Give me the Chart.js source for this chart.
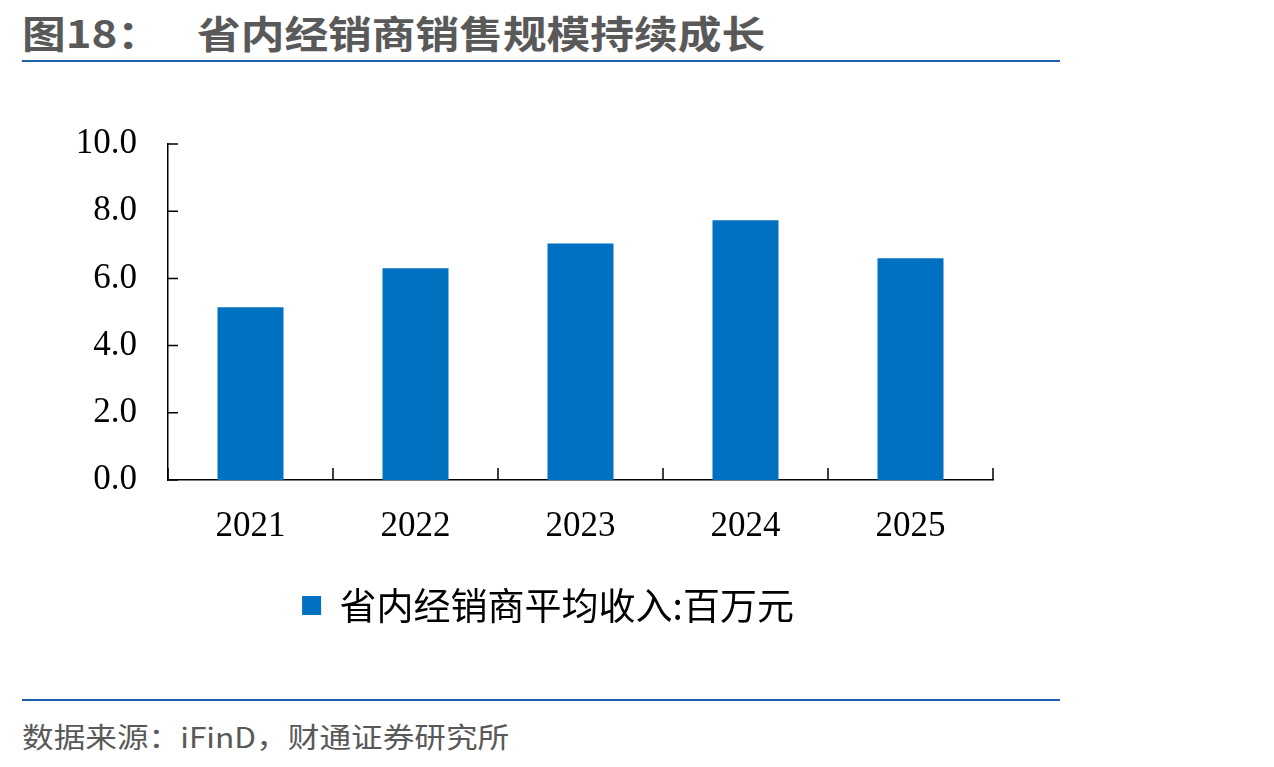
<!DOCTYPE html>
<html>
<head>
<meta charset="utf-8">
<script src="https://cdn.jsdelivr.net/npm/chart.js@4"></script>
<style>
  body { margin: 0; background: #fff; width: 1274px; height: 767px; position: relative; overflow: hidden; }
  .title { position: absolute; top: 4px; font-family: "Noto Sans CJK SC", sans-serif; font-weight: bold; font-size: 38px; color: #595959; white-space: nowrap; transform: scaleX(1.15); transform-origin: left top; }
  .rule { position: absolute; left: 22px; width: 1038px; height: 2px; background: #1f5fae; }
  .source { position: absolute; left: 22px; top: 716px; font-family: "Noto Sans CJK SC", sans-serif; font-size: 28px; color: #595959; white-space: nowrap; transform: scaleX(1.13); transform-origin: left top; }
  #wrap { position: absolute; left: 0; top: 92px; width: 1274px; height: 542px; }
</style>
</head>
<body>
<div class="title" style="left:22px">图18：</div>
<div class="title" style="left:197px">省内经销商销售规模持续成长</div>
<div class="rule" style="top:60px"></div>
<div id="wrap"><canvas id="chart"></canvas></div>
<div class="rule" style="top:699px"></div>
<div class="source">数据来源：iFinD，财通证券研究所</div>
<script>
const years = ['2021', '2022', '2023', '2024', '2025'];
const avgIncome = [5.14, 6.30, 7.04, 7.73, 6.60];
const seriesName = '省内经销商平均收入:百万元';

// inward tick marks like the original
const innerTicks = {
  id: 'innerTicks',
  afterDraw(chart) {
    const ctx = chart.ctx;
    const x = chart.scales.x, y = chart.scales.y;
    ctx.save();
    ctx.strokeStyle = '#000';
    ctx.lineWidth = 1.5;
    ctx.beginPath();
    y.ticks.forEach(t => {
      const py = y.getPixelForValue(t.value);
      ctx.moveTo(x.left, py);
      ctx.lineTo(x.left + 10, py);
    });
    const half = (x.getPixelForValue(1) - x.getPixelForValue(0)) / 2;
    for (let i = 0; i <= years.length; i++) {
      const px = x.getPixelForValue(i) - half;
      ctx.moveTo(px, y.bottom);
      ctx.lineTo(px, y.bottom - 12);
    }
    ctx.stroke();
    ctx.restore();
  }
};

// nudge legend so it is centred where the original has it
const legendShift = {
  id: 'legendShift',
  afterLayout(chart) {
    if (chart.legend) chart.legend.left = 103;
  }
};

new Chart(document.getElementById('chart'), {
  type: 'bar',
  data: {
    labels: years,
    datasets: [{
      label: seriesName,
      data: avgIncome,
      backgroundColor: '#0070C0',
      barPercentage: 0.4,
      categoryPercentage: 1.0
    }]
  },
  options: {
    responsive: true,
    maintainAspectRatio: false,
    animation: false,
    layout: { padding: { top: 35, right: 281, left: 0, bottom: 0 } },
    plugins: {
      tooltip: { enabled: false },
      legend: {
        position: 'bottom',
        labels: {
          boxWidth: 19,
          boxHeight: 19,
          padding: 10,
          color: '#000',
          font: { family: '"Noto Sans CJK SC", sans-serif', size: 37 }
        }
      }
    },
    scales: {
      x: {
        grid: { display: false, drawTicks: false },
        border: { color: '#000', width: 1.5 },
        ticks: {
          padding: 26,
          color: '#000',
          font: { family: '"Liberation Serif", "Times New Roman", serif', size: 35 }
        },
        afterFit: s => { s.height = 97; }
      },
      y: {
        min: 0,
        max: 10,
        grid: { display: false, drawTicks: false },
        border: { color: '#000', width: 1.5 },
        ticks: {
          stepSize: 2,
          padding: 31,
          color: '#000',
          font: { family: '"Liberation Serif", "Times New Roman", serif', size: 35 },
          callback: v => v.toFixed(1)
        },
        afterFit: s => { s.width = 168; }
      }
    }
  },
  plugins: [innerTicks, legendShift]
});
</script>
</body>
</html>
